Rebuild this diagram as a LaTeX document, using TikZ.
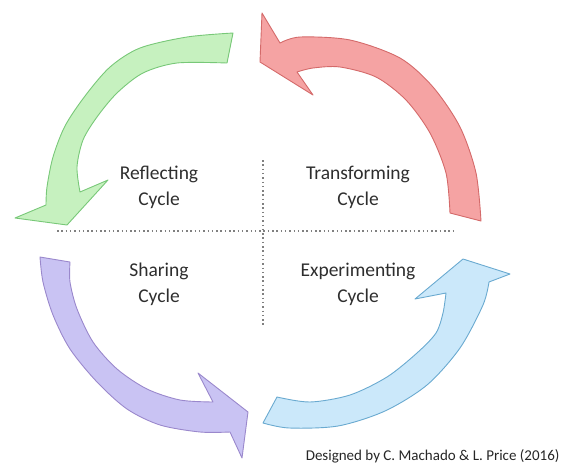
\documentclass[tikz,border=0pt]{standalone}
\usepackage{fontspec}
\setmainfont{Carlito}
\usetikzlibrary{positioning}

\definecolor{verdeF}{HTML}{C6F1BF}
\definecolor{verdeB}{HTML}{78C878}
\definecolor{rojoF}{HTML}{F5A3A3}
\definecolor{rojoB}{HTML}{D46A6A}
\definecolor{moradoF}{HTML}{C9C3F3}
\definecolor{moradoB}{HTML}{9A88CC}
\definecolor{azulF}{HTML}{CBE8FA}
\definecolor{azulB}{HTML}{6AAAD0}
\definecolor{gris}{HTML}{2E2E2E}

\begin{document}
\begin{tikzpicture}[x=1pt, y=-1pt, node distance=199pt,
                  flecha/.style={line width=0.9pt, line join=round},
                  verde/.style={flecha, fill=verdeF, draw=verdeB},
                  rojo/.style={flecha, fill=rojoF, draw=rojoB},
                  morado/.style={flecha, fill=moradoF, draw=moradoB},
                  azul/.style={flecha, fill=azulF, draw=azulB},
                  ciclo/.style={align=center, text=gris,
                      font=\fontsize{19.5}{26}\selectfont},
                  punteado/.style={draw=gray, line width=1.5pt,
                      dash pattern=on 1.5pt off 2.8pt}]

                  \useasboundingbox (0,0) rectangle (566,464);

                  % Dibujamos las flechas del ciclo.
                  \path[verde] (233,33)
                  -- plot[smooth] coordinates {(233,33) (187,37) (140,48) (110,67)
                      (85,96) (65,126) (53,157) (47,187) (46,205)}
                  -- (15,218) -- (67,225) -- (108,180) -- (80,192)
                  -- plot[smooth] coordinates {(80,192) (77,167) (83,140) (97,117)
                      (117,93) (143,73) (177,63) (227,63)} -- cycle;
                  \path[rojo] (450,213) -- (481,221)
                  -- plot[smooth] coordinates {(481,221) (476,173) (460,127) (433,87)
                      (400,58) (350,40) (300,37) (280,43)}
                  -- (262,13) -- (260,62) -- (313,95) -- (297,72)
                  -- plot[smooth] coordinates {(297,72) (313,68) (340,67) (376,77)
                      (406,100) (430,133) (446,173) (450,213)} -- cycle;
                  \path[morado] (40,257) -- (70,262)
                  -- plot[smooth] coordinates {(70,262) (70,282) (77,309) (93,342)
                      (117,369) (147,389) (180,400) (213,402)}
                  -- (198,373) -- (248,412) -- (242,458) -- (230,432)
                  -- plot[smooth] coordinates {(230,432) (200,432) (160,425) (127,409)
                      (97,382) (70,349) (53,315) (43,282) (40,257)} -- cycle;
                  \path[azul] (277,397)
                  -- plot[smooth] coordinates {(277,397) (310,402) (350,395) (387,377)
                      (417,353) (436,333) (443,313) (446,293)}
                  -- (415,299) -- (463,259) -- (510,274) -- (489,282)
                  -- plot[smooth] coordinates {(489,282) (483,305) (460,348)
                      (427,385) (385,411) (338,426) (289,428) (263,423)}
                  -- cycle;

                  % Lineas punteadas.
                  \coordinate (izq) at (57,231);
                  \coordinate (der) at (453,231);
                  \coordinate (arr) at (263,160);
                  \coordinate (aba) at (263,327);
                  \draw[punteado] (izq) -- (der);
                  \draw[punteado] (arr) -- (aba);

                  % Asignamos los textos.
                  \node[ciclo] (reflect) at (159,187) {Reflecting\\Cycle};
                  \node[ciclo, right of=reflect] (transform) {Transforming\\Cycle};
                  \node[ciclo, below of=reflect, node distance=97pt] (share)
                  {Sharing\\Cycle};
                  \node[ciclo, right of=share] (experiment) {Experimenting\\Cycle};
                  \node[anchor=base east, text=black!85,
                      font=\fontsize{15}{18}\selectfont] (firma) at (563,460)
                  {Designed by C. Machado \& L. Price (2016)};

                \end{tikzpicture}
\end{document}
